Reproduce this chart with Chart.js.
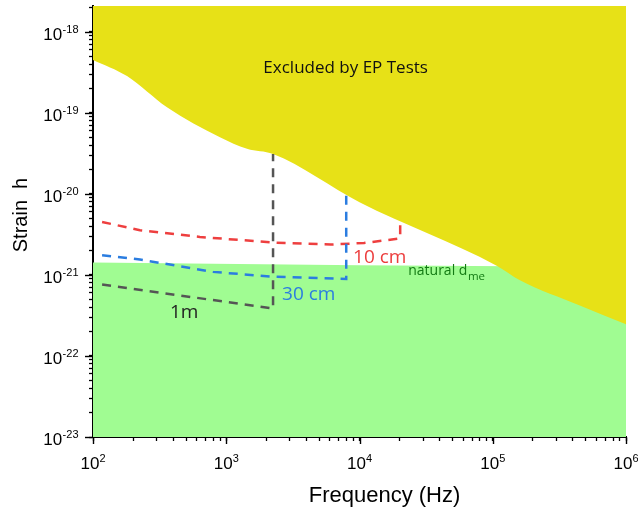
<!DOCTYPE html>
<html><head><meta charset="utf-8">
<script src="https://cdn.jsdelivr.net/npm/chart.js@4/dist/chart.umd.min.js"></script>
<style>html,body{margin:0;padding:0;background:#fff}#wrap{width:638px;height:508px}</style>
</head><body><div id="wrap"><canvas id="c" width="638" height="508"></canvas></div>
<script>
// ---- data ----
const epFreq   = [100, 180, 359, 897, 1432, 2245, 10000, 107000, 160000, 450000, 1000000];
const epStrain = [4.5e-19, 2.84e-19, 1.17e-19, 5.0e-20, 3.6e-20, 3.1e-20, 7.9e-21, 1.3e-21, 8.6e-22, 4.2e-22, 2.46e-22];
const dmeFreq   = [100, 10000, 1000000];
const dmeStrain = [1.42e-21, 1.32e-21, 1.25e-21];
const cm10Freq   = [117, 225, 634, 2245, 6100, 10800, 17000, 20200, 20200];
const cm10Strain = [4.5e-21, 3.56e-21, 2.94e-21, 2.51e-21, 2.37e-21, 2.48e-21, 2.72e-21, 2.83e-21, 4.3e-21];
const cm30Freq   = [117, 225, 795, 2245, 7950, 7950];
const cm30Strain = [1.75e-21, 1.55e-21, 1.09e-21, 9.5e-22, 8.9e-22, 1.04e-20];
const m1Freq   = [117, 2245, 2245];
const m1Strain = [7.6e-22, 3.85e-22, 3.1e-20];
const xMajor = [1e2, 1e3, 1e4, 1e5, 1e6];
const xExp   = ['2', '3', '4', '5', '6'];
const yMajor = [1e-23, 1e-22, 1e-21, 1e-20, 1e-19, 1e-18];
const yExp   = ['-23', '-22', '-21', '-20', '-19', '-18'];
const xTitle = 'Frequency (Hz)';
const yTitle = 'Strain  h';
const notes = [
  {text: 'Excluded by EP Tests', f: 7870, h: 3.06e-19, align: 'center', font: '17px "Open Sans"', color: '#111'},
  {text: '10 cm', f: 8950, h: 1.42e-21, align: 'left', font: '19px "Open Sans"', color: '#ec3d3d'},
  {text: '30 cm', f: 2625, h: 4.87e-22, align: 'left', font: '19px "Open Sans"', color: '#2b7de0'},
  {text: '1m', f: 378, h: 2.9e-22, align: 'left', font: '19px "Open Sans"', color: '#222'},
];
const dmeNote = {text: 'natural d', sub: 'me', f: 23200, h: 9.9e-22};

const pts = (f, s) => f.map((x, i) => ({x: x, y: s[i]}));
function logTicks(majors, min, max) {
  const out = [];
  majors.forEach(m => {
    for (let d = 1; d <= 9; d++) {
      const v = d * m;
      if (v >= min * 0.999 && v <= max * 1.001) out.push({value: v, major: d === 1});
    }
  });
  return out;
}
const X_MIN = 100, X_MAX = 1e6, Y_MIN = 1e-23, Y_MAX = 2.08e-18;

const overlay = {
  id: 'overlay',
  afterDraw(chart) {
    const ctx = chart.ctx, xs = chart.scales.x, ys = chart.scales.y, ca = chart.chartArea;
    ctx.save();
    ctx.strokeStyle = '#000'; ctx.lineWidth = 1.4;
    // longer major tick marks
    yMajor.forEach(v => { const p = Math.round(ys.getPixelForValue(v)) + 0.5; ctx.beginPath(); ctx.moveTo(ca.left - 8, p); ctx.lineTo(ca.left, p); ctx.stroke(); });
    xMajor.forEach(v => { const p = Math.round(xs.getPixelForValue(v)) + 0.5; ctx.beginPath(); ctx.moveTo(p, ca.bottom); ctx.lineTo(p, ca.bottom + 7); ctx.stroke(); });
    // tick labels
    ctx.fillStyle = '#000'; ctx.textBaseline = 'alphabetic';
    const big = '17px "Liberation Sans"', small = '11px "Liberation Sans"';
    yMajor.forEach((v, i) => {
      const p = ys.getPixelForValue(v);
      ctx.font = small; ctx.textAlign = 'right';
      const ew = ctx.measureText(yExp[i]).width;
      ctx.fillText(yExp[i], 78.5, p + 1);
      ctx.font = big;
      ctx.fillText('10', 78.5 - ew - 0.5, p + 8);
    });
    xMajor.forEach((v, i) => {
      const p = xs.getPixelForValue(v);
      ctx.textAlign = 'left';
      ctx.font = big; const bw = ctx.measureText('10').width;
      ctx.font = small; const ew = ctx.measureText(xExp[i]).width;
      const x0 = p - (bw + ew) / 2;
      ctx.font = big; ctx.fillText('10', x0, ca.bottom + 31.5);
      ctx.font = small; ctx.fillText(xExp[i], x0 + bw, ca.bottom + 24.5);
    });
    // axis titles
    ctx.font = '22px "Liberation Sans"'; ctx.textAlign = 'center';
    ctx.fillText(xTitle, 384.5, 501.5);
    ctx.save();
    ctx.translate(27, 215); ctx.rotate(-Math.PI / 2);
    ctx.font = '20px "Liberation Sans"';
    ctx.fillText(yTitle, 0, 0);
    ctx.restore();
    // annotations
    notes.forEach(n => {
      ctx.font = n.font; ctx.fillStyle = n.color; ctx.textAlign = n.align;
      ctx.fillText(n.text, xs.getPixelForValue(n.f), ys.getPixelForValue(n.h));
    });
    ctx.fillStyle = '#137a13'; ctx.textAlign = 'left';
    const dx = xs.getPixelForValue(dmeNote.f), dy = ys.getPixelForValue(dmeNote.h);
    ctx.font = '14px "Open Sans"'; ctx.fillText(dmeNote.text, dx, dy);
    const tw = ctx.measureText(dmeNote.text).width;
    ctx.font = '11.5px "Open Sans"'; ctx.fillText(dmeNote.sub, dx + tw + 0.5, dy + 5);
    ctx.restore();
  }
};

const dash = {pointRadius: 0, borderWidth: 2.5, borderDash: [9, 7], fill: false, tension: 0};
new Chart(document.getElementById('c'), {
  type: 'line',
  data: {
    datasets: [
      Object.assign({data: pts(m1Freq, m1Strain), borderColor: '#555555', order: 1}, dash),
      Object.assign({data: pts(cm30Freq, cm30Strain), borderColor: '#2b7de0', order: 2}, dash),
      Object.assign({data: pts(cm10Freq, cm10Strain), borderColor: '#ee3f3f', order: 3}, dash),
      {data: pts(epFreq, epStrain), pointRadius: 0, borderWidth: 0, borderColor: 'rgba(0,0,0,0)', backgroundColor: '#e7e117', fill: 'end', cubicInterpolationMode: 'monotone', order: 5},
      {data: pts(dmeFreq, dmeStrain), pointRadius: 0, borderWidth: 0, borderColor: 'rgba(0,0,0,0)', backgroundColor: '#a0fc92', fill: 'start', order: 6}
    ]
  },
  options: {
    responsive: false, animation: false,
    layout: {padding: {top: 6, right: 12, left: 0, bottom: 0}},
    plugins: {legend: {display: false}, tooltip: {enabled: false}},
    scales: {
      x: {
        type: 'logarithmic', min: X_MIN, max: X_MAX,
        afterBuildTicks: s => { s.ticks = logTicks(xMajor, X_MIN, X_MAX); },
        afterFit: s => { s.height = 71; },
        ticks: {display: false},
        grid: {display: true, drawOnChartArea: false, drawTicks: true, tickLength: 4, tickColor: '#000', tickWidth: 1.3},
        border: {display: true, color: '#000', width: 2}
      },
      y: {
        type: 'logarithmic', min: Y_MIN, max: Y_MAX,
        afterBuildTicks: s => { s.ticks = logTicks(yMajor, Y_MIN, Y_MAX); },
        afterFit: s => { s.width = 93; },
        ticks: {display: false},
        grid: {display: true, drawOnChartArea: false, drawTicks: true, tickLength: 4, tickColor: '#000', tickWidth: 1.3},
        border: {display: true, color: '#000', width: 2}
      }
    }
  },
  plugins: [overlay]
});
</script></body></html>
